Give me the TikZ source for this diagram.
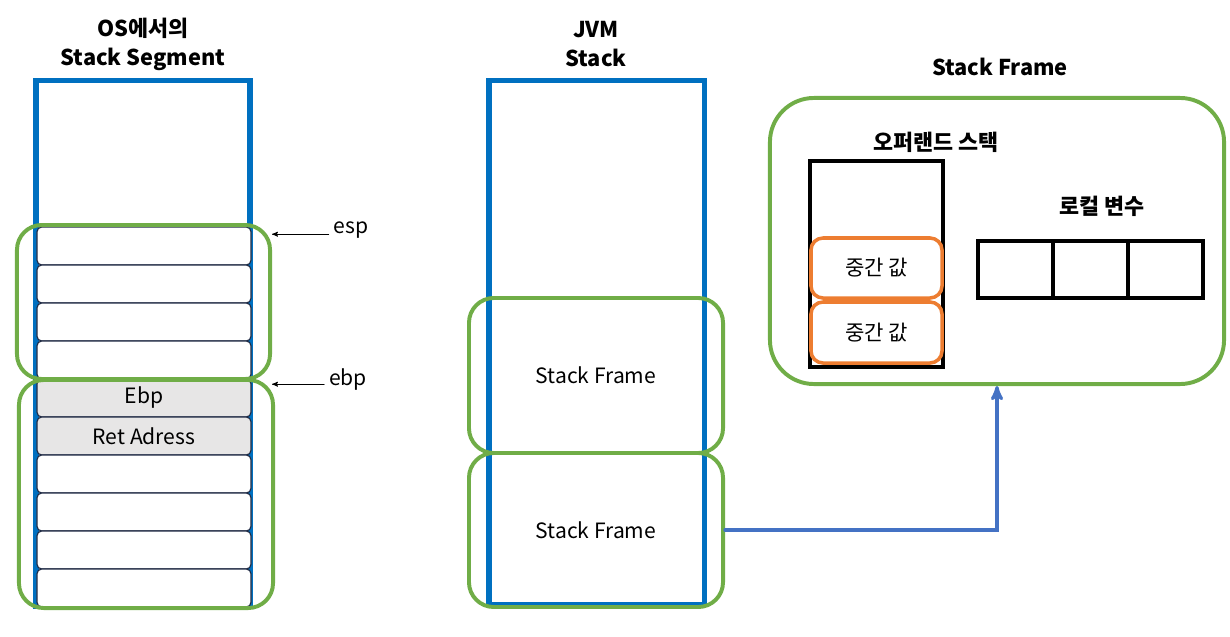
\documentclass[tikz,border=0pt]{standalone}
\usepackage{fontspec}
\setmainfont{Noto Sans CJK KR}
\usetikzlibrary{%
  arrows,%
  positioning,%
  calc%
}
\definecolor{stackblue}{HTML}{0070C0}
\definecolor{framegreen}{HTML}{70AD47}
\definecolor{valorange}{HTML}{ED7D31}
\definecolor{linkblue}{HTML}{4472C4}
\definecolor{cellgray}{HTML}{E7E6E6}
\definecolor{celledge}{HTML}{1F2A44}

\begin{document}
\begin{tikzpicture}[
  x=0.025cm, y=-0.025cm, >=stealth',
  font=\fontsize{15}{20.5}\selectfont, line cap=round,
  stack/.style={draw=stackblue, line width=3.6pt, minimum width=5.35cm, inner sep=0pt},
  cell/.style={draw=celledge, line width=0.8pt, fill=white, rounded corners=0.12cm,
    minimum width=5.35cm, minimum height=0.95cm, inner sep=0pt},
  grpframe/.style={draw=framegreen, line width=2.8pt, rounded corners=0.62cm, inner sep=0pt},
  title/.style={font=\fontsize{15.5}{20.5}\selectfont\bfseries, align=center},
  valbox/.style={draw=valorange, line width=2.5pt, fill=white, rounded corners=0.3cm,
    minimum width=3.275cm, inner sep=0pt},
  varbox/.style={draw=black, line width=2.6pt, minimum width=1.875cm, minimum height=1.425cm, inner sep=0pt},
  ptr/.style={->, line width=0.6pt},
  flow/.style={->, draw=linkblue, line width=2.3pt}
]
\useasboundingbox (0,0) rectangle (1230,637);

% OS stack segment
\node[title] (ostitle) at (143,44) {OS에서의\\Stack Segment};
\node[stack, minimum height=13.125cm] (osstack) at (143,343.5) {};
\node[cell] (c1) at (144,246) {};
\node[cell] (c2) at (144,284) {};
\node[cell] (c3) at (144,322) {};
\node[cell] (c4) at (144,360) {};
\node[cell, fill=cellgray] (c5) at (144,398) {Ebp};
\node[cell, fill=cellgray] (c6) at (144,436) {Ret Adress};
\node[cell] (c7) at (144,474) {};
\node[cell] (c8) at (144,512) {};
\node[cell] (c9) at (144,550) {};
\node[cell] (c10) at (144,588) {};
\node[grpframe, minimum width=6.325cm, minimum height=3.85cm] (osframe1) at (143.5,302) {};
\node[grpframe, minimum width=6.35cm, minimum height=5.7cm] (osframe2) at (146,494) {};

\node (esp) at (351,230) {esp};
\node (ebp) at (348,380) {ebp};
\draw[ptr] ([yshift=-3pt]esp.west) -- ([yshift=-3pt]esp.west -| osframe1.east);
\draw[ptr] ([yshift=-3pt]ebp.west) -- ([yshift=-3pt]ebp.west -| osframe1.east);

% JVM stack
\node[title] (jvmtitle) at (596,44) {JVM\\Stack};
\node[stack, minimum width=5.375cm, minimum height=13.075cm] (jvmstack) at (596.5,342.5) {};
\node[grpframe, minimum width=6.35cm, minimum height=3.875cm] (jvmf1) at (596,375.5) {Stack Frame};
\node[grpframe, minimum width=6.35cm, minimum height=3.85cm] (jvmf2) at (596,530) {Stack Frame};

% stack frame detail
\node[title] (sftitle) at (1000,67) {Stack Frame};
\node[grpframe, rounded corners=1.1cm, minimum width=11.35cm, minimum height=7.15cm] (sframe) at (997,241) {};

\node[title] (optitle) at (936,142) {오퍼랜드 스택};
\node[draw, line width=2.6pt, minimum width=3.325cm, minimum height=5.15cm, inner sep=0pt] (opstack) at (876.5,264) {};
\node[valbox, minimum height=1.5cm] (val1) at (876.5,268) {중간 값};
\node[valbox, minimum height=1.525cm] (val2) at (876.5,332.5) {중간 값};

\node[title] (lvtitle) at (1102,206) {로컬 변수};
\node[varbox] (lv1) at (1015.5,269.5) {};
\node[varbox] (lv2) at (1090.5,269.5) {};
\node[varbox] (lv3) at (1165.5,269.5) {};

\draw[flow] (jvmf2.east) -| (sframe.south);
\end{tikzpicture}
\end{document}
